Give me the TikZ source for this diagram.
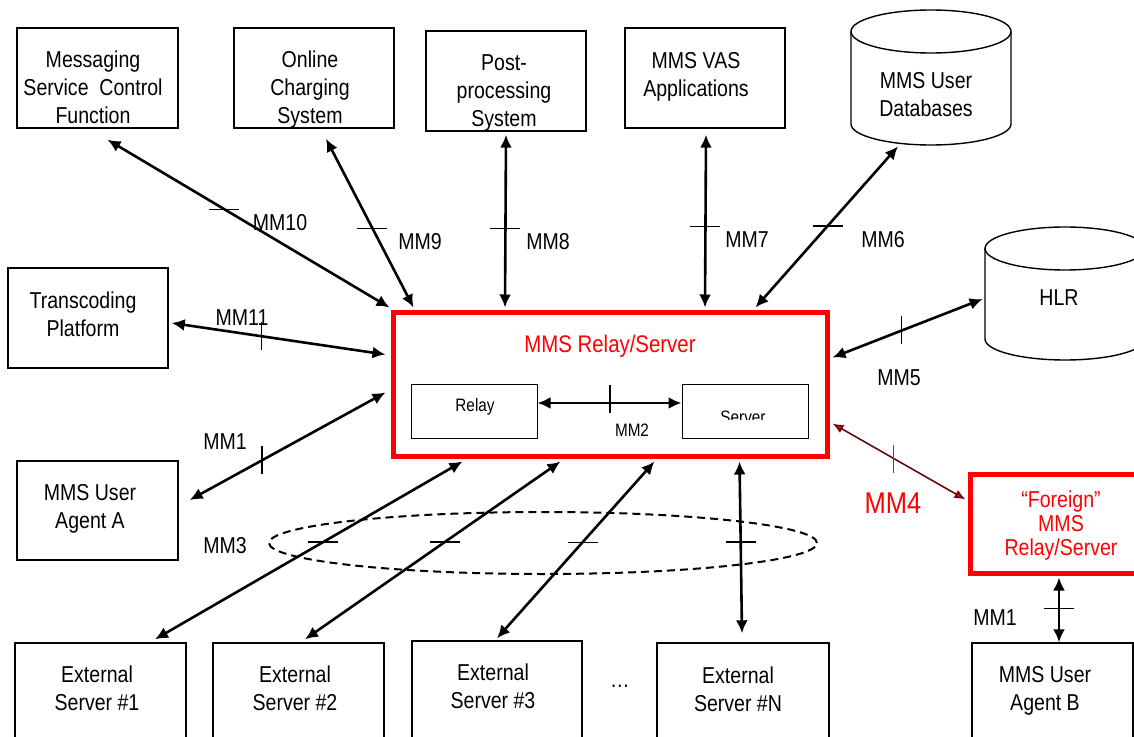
\documentclass[tikz,border=0pt]{standalone}
\usepackage{fontspec}
\setmainfont{Liberation Sans}[FakeStretch=0.85]
\usetikzlibrary{arrows.meta,shapes.geometric,fit}
\definecolor{mmsred}{RGB}{255,0,0}
\definecolor{linkdark}{RGB}{100,10,10}
\begin{document}
\begin{tikzpicture}[x=0.5pt,y=-0.5pt,
  outline/.style={line width=0.7pt},
  box/.style={draw, outline, inner sep=0pt},
  redbox/.style={draw=mmsred, line width=2.5pt, inner sep=0pt},
  txt/.style={inner sep=0pt, align=center, font=\fontsize{11.5}{14}\selectfont},
  smalltxt/.style={inner sep=0pt, align=center, font=\fontsize{9}{11}\selectfont},
  redtxt/.style={inner sep=0pt, align=center, text=mmsred},
  lbl/.style={inner sep=0pt, font=\fontsize{11.5}{14}\selectfont},
  bi/.style={line width=1.3pt, >={Latex[length=6.5pt,width=6pt]}, <->},
  redbi/.style={draw=linkdark, line width=0.8pt, >={Latex[length=5.5pt,width=4.5pt,fill=mmsred]}, <->},
  tickmark/.style={line width=0.6pt},
]
\useasboundingbox (0,0) rectangle (1134,737);

% ---------- top row of peer entities ----------
\node[box, fit={(17,28)(178,128)}] (mscf) {};
\node[txt] (mscf-t) at (93,87) {Messaging\\Service~~Control\\Function};
\node[box, fit={(234,28)(394,128)}] (ocs) {};
\node[txt] (ocs-t) at (310,90) {Online\\Charging\\System};
\node[box, fit={(426,31)(586,131)}] (pps) {};
\node[txt] (pps-t) at (504,93) {Post-\\processing\\System};
\node[box, fit={(625,28)(785,128)}] (vas) {};
\node[txt] (vas-t) at (696,77) {MMS VAS\\Applications};

% user database cylinder
\node[inner sep=0pt, fit={(851,10)(1011,145)}] (udb) {};
\draw[outline] (931,31.5) ellipse [x radius=80, y radius=21.5];
\draw[outline] (851,31.5) -- (851,124) arc[start angle=180, end angle=0, x radius=80, y radius=21] -- (1011,31.5);
\node[txt] (udb-t) at (926,95) {MMS User\\Databases};

% HLR cylinder
\node[inner sep=0pt, fit={(985,227)(1145,360)}] (hlr) {};
\draw[outline] (1065,248.5) ellipse [x radius=80, y radius=21.5];
\draw[outline] (985,248.5) -- (985,339) arc[start angle=180, end angle=0, x radius=80, y radius=21] -- (1145,248.5);
\node[txt] (hlr-t) at (1059,298) {HLR};

% ---------- left side ----------
\node[box, fit={(8,268)(168,368)}] (trans) {};
\node[txt] (trans-t) at (83,314) {Transcoding\\Platform};
\node[box, fit={(17,461)(178,560)}] (uaa) {};
\node[txt] (uaa-t) at (90,509) {MMS User\\Agent A};

% ---------- MMS Relay/Server ----------
\node[redbox, fit={(393,313)(827,456)}] (relay) {};
\node[redtxt, font=\fontsize{12}{14}\selectfont] (relay-t) at (610,346) {MMS Relay/Server};
\node[box, line width=0.5pt, fit={(411,384)(537,438)}] (relaypart) {};
\node[smalltxt] (relaypart-t) at (475,407) {Relay};
\node[box, line width=0.5pt, fit={(682,384)(808,438)}] (serverpart) {};
\begin{scope}
  \clip (682,384) rectangle (808,419);
  \node[smalltxt, anchor=base] (serverpart-t) at (743,423) {Server};
\end{scope}

% ---------- foreign relay and user agent B ----------
\node[redbox, fit={(970,474)(1150,573)}] (foreign) {};
\node[redtxt, font=\fontsize{11.5}{12}\selectfont] (foreign-t) at (1061,526) {“Foreign”\\MMS\\Relay/Server};
\node[box, fit={(972,643)(1133,770)}] (uab) {};
\node[txt] (uab-t) at (1045,691) {MMS User\\Agent B};

% ---------- external servers ----------
\node[box, fit={(15,643)(186,770)}] (es1) {};
\node[txt] (es1-t) at (97,688) {External\\Server \#1};
\node[box, fit={(213,643)(384,770)}] (es2) {};
\node[txt] (es2-t) at (295,688) {External\\Server \#2};
\node[box, fit={(412,641)(582,770)}] (es3) {};
\node[txt] (es3-t) at (493,686) {External\\Server \#3};
\node[box, fit={(657,643)(829,770)}] (esn) {};
\node[txt] (esn-t) at (738,689) {External\\Server \#N};
\node[txt] (dots) at (620,686) {…};

% MM3 grouping ring
\node[draw, ellipse, line width=1pt, dash pattern=on 4pt off 2.5pt, minimum width=274pt, minimum height=31pt, inner sep=0pt] (ring) at (543,543) {};

% ---------- reference points ----------
\draw[bi] ([shift={(10,11)}]mscf.south) -- coordinate[pos=.414] (k10) ([shift={(-1,-3)}]relay.north west);
\draw[bi] ([shift={(12,10)}]ocs.south) -- coordinate[pos=.53] (k9) ([shift={(23,-3)}]relay.north west);
\draw[bi] ([shift={(0,3)}]pps.south) -- coordinate[pos=.542] (k8) ([shift={(-105,-3)}]relay.north);
\draw[bi] ([shift={(1,6)}]vas.south) -- coordinate[pos=.531] (k7) ([shift={(95,-3)}]relay.north);
\draw[bi] ([shift={(-33,1)}]udb.south) -- coordinate[pos=.494] (k6) ([shift={(-74,-3)}]relay.north east);
\draw[bi] ([shift={(3,47)}]relay.north east) -- coordinate[pos=.46] (k5) ([shift={(-2,5.5)}]hlr.west);
\draw[bi] ([shift={(3,5)}]trans.east) -- coordinate[pos=.419] (k11) ([shift={(-5,44)}]relay.north west);
\draw[bi] ([shift={(-5,82)}]relay.north west) -- coordinate[pos=.631] (k1a) ([shift={(11,-10.5)}]uaa.east);
\draw[bi] ([shift={(0,-8)}]relaypart.east) -- coordinate[pos=.503] (k2) ([shift={(0,-8)}]serverpart.west);
\draw[redbi] ([shift={(3,-35)}]relay.south east) -- coordinate[pos=.46] (k4) ([shift={(-2,-24)}]foreign.west);
\draw[bi] ([shift={(-1,2)}]foreign.south) -- coordinate[pos=.478] (k1b) ([shift={(6.5,0)}]uab.north);
\draw[bi] ([shift={(72,3)}]relay.south west) -- coordinate[pos=.453] (k3a) ([shift={(54.5,-3)}]es1.north);
\draw[bi] ([shift={(170,3)}]relay.south west) -- coordinate[pos=.453] (k3b) ([shift={(6.5,-3)}]es2.north);
\draw[bi] ([shift={(264,3)}]relay.south west) -- coordinate[pos=.456] (k3c) ([shift={(0,-2)}]es3.north);
\draw[bi] ([shift={(349,3)}]relay.south west) -- coordinate[pos=.469] (k3n) ([shift={(-1,-9)}]esn.north);

% interface tick marks
\draw[tickmark] ([shift={(-15,0)}]k10) -- ([shift={(15,0)}]k10);
\draw[tickmark] ([shift={(-15,0)}]k9) -- ([shift={(15,0)}]k9);
\draw[tickmark] ([shift={(-15,0)}]k8) -- ([shift={(15,0)}]k8);
\draw[tickmark] ([shift={(-15,0)}]k7) -- ([shift={(15,0)}]k7);
\draw[tickmark] ([shift={(-15,0)}]k6) -- ([shift={(15,0)}]k6);
\draw[tickmark] ([shift={(0,-15)}]k5) -- ([shift={(0,13)}]k5);
\draw[tickmark] ([shift={(0,-14)}]k11) -- ([shift={(0,14)}]k11);
\draw[tickmark] ([shift={(0,-14)}]k1a) -- ([shift={(0,14)}]k1a);
\draw[tickmark] ([shift={(0,-18)}]k2) -- ([shift={(0,10)}]k2);
\draw[tickmark, mmsred] ([shift={(0,-13)}]k4) -- ([shift={(0,15)}]k4);
\draw[tickmark] ([shift={(-15,0)}]k1b) -- ([shift={(15,0)}]k1b);
\draw[tickmark] ([shift={(-15,0)}]k3a) -- ([shift={(15,0)}]k3a);
\draw[tickmark] ([shift={(-15,0)}]k3b) -- ([shift={(15,0)}]k3b);
\draw[tickmark] ([shift={(-15,0)}]k3c) -- ([shift={(15,0)}]k3c);
\draw[tickmark] ([shift={(-15,0)}]k3n) -- ([shift={(15,0)}]k3n);

% interface labels
\node[lbl] (l10) at (280,223) {MM10};
\node[lbl] (l9) at (420,242) {MM9};
\node[lbl] (l8) at (548,242) {MM8};
\node[lbl] (l7) at (747,240) {MM7};
\node[lbl] (l6) at (883,240) {MM6};
\node[lbl] (l5) at (899,378) {MM5};
\node[lbl] (l11) at (242,318) {MM11};
\node[lbl] (l1a) at (225,442) {MM1};
\node[lbl] (l3) at (225,546) {MM3};
\node[lbl, font=\fontsize{9}{11}\selectfont] (l2) at (632,430) {MM2};
\node[lbl, text=mmsred, font=\fontsize{15}{18}\selectfont] (l4) at (893,503) {MM4};
\node[lbl] (l1b) at (995,618) {MM1};
\end{tikzpicture}
\end{document}
